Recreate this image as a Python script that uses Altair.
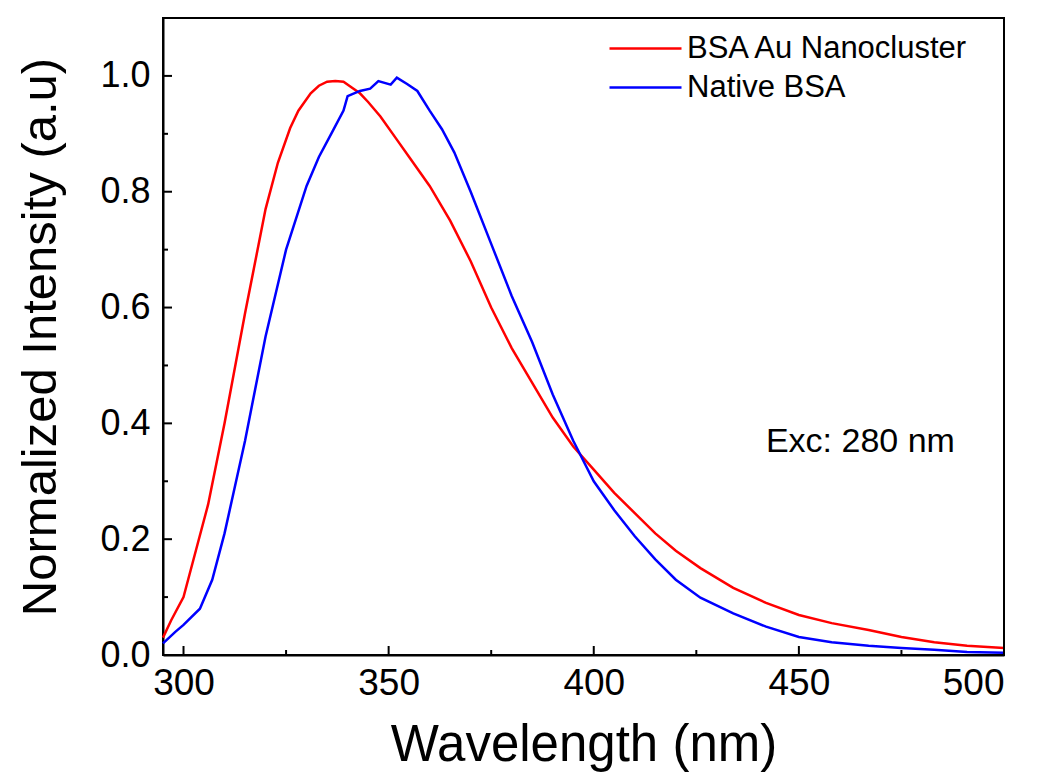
import altair as alt
import pandas as pd

# ---- data ----
red_nm = [295, 297, 300, 303, 306, 310, 315, 320, 323, 326, 328, 331, 333, 335, 337, 339, 341,
          343, 345, 348, 352, 355, 360, 365, 370, 375, 380, 385, 390, 395, 400, 405, 410, 415,
          420, 426, 434, 442, 450, 458, 467, 475, 483, 491, 500]
red_val = [0.03, 0.06, 0.10, 0.18, 0.26, 0.40, 0.59, 0.77, 0.85, 0.91, 0.94, 0.97, 0.983, 0.99,
           0.991, 0.99, 0.98, 0.97, 0.955, 0.93, 0.89, 0.86, 0.81, 0.75, 0.68, 0.60, 0.53, 0.47,
           0.41, 0.36, 0.32, 0.28, 0.245, 0.21, 0.18, 0.15, 0.116, 0.09, 0.069, 0.055, 0.043,
           0.031, 0.022, 0.016, 0.012]

blue_nm = [295, 298, 300, 304, 307, 310, 315, 320, 325, 330, 333, 336, 339, 340, 343, 345.5,
           347.5, 350.5, 352, 354.5, 357, 360, 363, 366, 370, 375, 380, 385, 390, 395, 400, 405,
           410, 415, 420, 426, 434, 442, 450, 458, 467, 475, 483, 491, 500]
blue_val = [0.02, 0.04, 0.052, 0.08, 0.13, 0.21, 0.37, 0.55, 0.70, 0.81, 0.86, 0.90, 0.94, 0.965,
            0.974, 0.978, 0.991, 0.985, 0.997, 0.986, 0.974, 0.94, 0.908, 0.868, 0.80, 0.71, 0.62,
            0.54, 0.45, 0.37, 0.30, 0.25, 0.205, 0.165, 0.13, 0.099, 0.072, 0.049, 0.031, 0.022,
            0.016, 0.012, 0.009, 0.005, 0.004]

series_names = ["BSA Au Nanocluster", "Native BSA"]
series_colors = ["#ff0000", "#0000ff"]

x_major = [300, 350, 400, 450, 500]
x_minor = [325, 375, 425, 475]
y_major = [0.0, 0.2, 0.4, 0.6, 0.8, 1.0]
y_minor = [0.1, 0.3, 0.5, 0.7, 0.9]

note_text = ["Exc: 280 nm"]
note_x = [465]
note_y = [0.367]

FONT = "Liberation Sans"
W, H = 841, 637

df = pd.concat([
    pd.DataFrame({"nm": red_nm, "val": red_val, "series": series_names[0]}),
    pd.DataFrame({"nm": blue_nm, "val": blue_val, "series": series_names[1]}),
], ignore_index=True)

xs = alt.Scale(domain=[295, 500], nice=False, zero=False)
ys = alt.Scale(domain=[0, 1.1], nice=False, zero=False)

lines = alt.Chart(df).mark_line(strokeWidth=2.5).encode(
    x=alt.X("nm:Q", scale=xs,
            axis=alt.Axis(values=x_major, format="d", title="Wavelength (nm)", orient="bottom")),
    y=alt.Y("val:Q", scale=ys,
            axis=alt.Axis(values=y_major, format=".1f", title="Normalized Intensity (a.u)",
                          orient="left")),
    color=alt.Color("series:N",
                    scale=alt.Scale(domain=series_names, range=series_colors),
                    legend=alt.Legend(title=None, orient="none", legendX=467, legendY=15,
                                      symbolType="M-6,0H6", symbolSize=144,
                                      symbolStrokeWidth=2.5, labelFontSize=31,
                                      labelFont=FONT, labelColor="black", labelLimit=0,
                                      rowPadding=7, labelOffset=26, padding=0)),
)

def xticks(vals, length):
    return alt.Chart(pd.DataFrame({"v": vals})).mark_rule(color="black", strokeWidth=2).encode(
        x=alt.X("v:Q", scale=xs, axis=None),
        y=alt.value(H), y2=alt.value(H - length))

def yticks(vals, length):
    return alt.Chart(pd.DataFrame({"v": vals})).mark_rule(color="black", strokeWidth=2).encode(
        y=alt.Y("v:Q", scale=ys, axis=None),
        x=alt.value(0), x2=alt.value(length))

note = alt.Chart(pd.DataFrame({"x": note_x, "y": note_y, "t": note_text})).mark_text(
    font=FONT, fontSize=34, color="black", align="center", baseline="middle"
).encode(
    x=alt.X("x:Q", scale=xs, axis=None),
    y=alt.Y("y:Q", scale=ys, axis=None),
    text="t:N",
)

chart = alt.layer(
    lines, xticks(x_major, 9), xticks(x_minor, 5), yticks(y_major, 9), yticks(y_minor, 5), note
).resolve_axis(
    x="independent", y="independent"
).properties(
    width=W, height=H,
    padding={"left": 155, "top": 10, "right": 30, "bottom": 122},
    autosize=alt.AutoSizeParams(type="none"),
    background="white",
).configure_view(
    stroke="black", strokeWidth=2
).configure_axis(
    grid=False, ticks=False, tickSize=0,
    domainColor="black", domainWidth=2,
    labelFont=FONT, labelColor="black",
    titleFont=FONT, titleFontWeight="normal", titleColor="black",
).configure_axisX(
    labelFontSize=37, labelPadding=10, titleFontSize=51, titlePadding=19,
).configure_axisY(
    labelFontSize=36, labelPadding=13, titleFontSize=49, titlePadding=34,
)

chart.save("out.html", embed_options={"renderer": "svg", "actions": False})
